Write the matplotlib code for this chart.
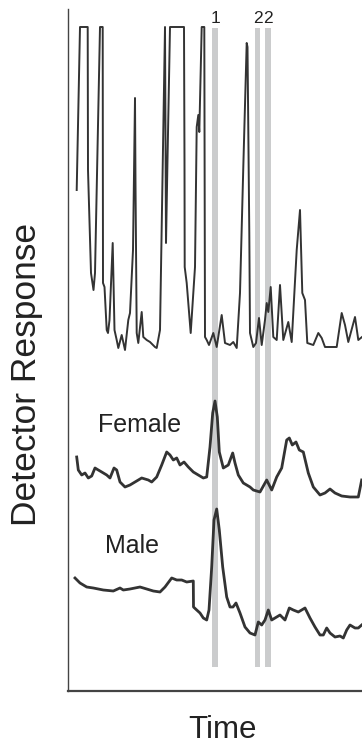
import matplotlib
matplotlib.use("Agg")
import matplotlib.pyplot as plt

plt.rcParams['font.family'] = ['Liberation Sans', 'DejaVu Sans']

# Top trace (reference chromatogram)
top_time = [8.7, 12, 19.7, 20, 23, 25.5, 27, 32, 34.7, 35, 36.5, 38.7, 40, 41.5, 44.7, 46.5,
            48.7, 50.3, 53.7, 57, 60.3, 62, 65, 67, 67.5, 68.7, 70.3, 73.7, 75.3, 78.7, 82, 87,
            88.7, 92, 97, 98, 99.5, 102, 116, 116.5, 116.7, 118.7, 122.7, 127, 128.7, 130.3, 131.3,
            133.7, 136.3, 137, 138.7, 141, 145.3, 148.7, 153.7, 157, 162, 165.3, 168.7, 172,
            175.3, 178.7, 179.5, 181.3, 182, 185.3, 188, 191, 193.7, 197, 198.7, 200.3, 202.7,
            205.3, 208.7, 212, 215.3, 220.3, 223.7, 228.7, 232, 234.3, 237, 239.3, 245.3, 250.3,
            253.7, 257, 268.7, 273.7, 277, 280.3, 287, 290.3, 294]
top_resp = [510, 673, 673, 530, 427, 410, 427, 673, 673, 417, 413, 370, 367, 380, 457, 370,
            360, 352, 365, 350, 380, 387, 450, 602, 517, 367, 357, 388, 363, 360, 358, 353,
            352, 370, 673, 457, 540, 673, 673, 537, 433, 417, 367, 433, 573, 585, 568,
            673, 673, 363, 360, 355, 367, 353, 385, 357, 355, 358, 352, 407,
            533, 657, 653, 467, 367, 353, 357, 382, 355, 380, 397, 388, 413,
            363, 360, 415, 360, 378, 358, 450, 490, 407, 400, 357, 355, 367,
            362, 353, 353, 387, 375, 358, 383, 360, 363]

# Female trace
female_time = [8.7, 10.3, 13.7, 17, 20.3, 23.7, 27, 30.3, 33.7, 38.7, 42, 46, 48.7, 52, 57, 62,
               67, 73.7, 80.3, 83.7, 88.7, 93.7, 98.7, 102, 105.3, 108.7, 112, 116, 120.3, 125.3,
               130.3, 135.3, 138.7, 142, 144.7, 147, 149.3, 151.3, 155.3, 160.3, 164.7, 167,
               170.3, 175.3, 182, 185.3, 192, 198.7, 203.7, 208.7, 213.7, 218.7, 221.3, 224.3,
               228, 231.3, 235.3, 240.3, 245.3, 252, 257, 262, 267, 273.7, 282, 290.3, 293.7]
female_resp = [243, 230, 225, 227, 222, 224, 232, 230, 228, 225, 222, 232, 230, 218, 213, 215,
               218, 222, 220, 218, 223, 235, 248, 245, 240, 242, 235, 238, 233, 228,
               225, 222, 223, 253, 287, 299, 283, 248, 232, 235, 247, 237,
               225, 217, 213, 210, 208, 220, 210, 223, 232, 260, 262, 255,
               258, 250, 248, 227, 213, 205, 207, 211, 207, 204, 203, 203, 220]

# Male trace
male_time = [7, 12, 18.7, 25.3, 35.3, 45.3, 52, 55.3, 62, 72, 78.7, 85.3, 92, 97, 103.7, 108.7,
             113.7, 118.7, 125.3, 125.5, 128.7, 132, 135.3, 138.7, 141, 143.7, 146, 148.7, 151.3,
             154.7, 158.7, 162, 165, 168, 172, 177, 182, 187, 190.3, 193.7, 197, 200.3, 203.7,
             207, 212, 217, 221.3, 225.3, 230.3, 237, 242, 247, 252, 255.3, 258.7, 262, 267,
             272, 275.3, 278.7, 282, 287, 290.3, 293.7]
male_resp = [122, 117, 113, 112, 110, 109, 112, 110, 111, 113, 111, 109, 108, 113, 122, 120,
             120, 118, 119, 93, 90, 87, 82, 80, 90, 133, 180, 191, 170,
             133, 103, 93, 93, 97, 87, 73, 67, 65, 78, 75, 80, 90, 80,
             82, 85, 80, 92, 90, 88, 92, 82, 73, 65, 65, 72, 67, 63,
             64, 62, 70, 75, 72, 72, 75]

# Highlighted compounds
band_time = [147, 189.5, 199.8]
band_labels = ["1", "2", "2"]
band_low, band_high = 33, 672

fig = plt.figure(figsize=(3.62, 7.46), dpi=100)
ax = fig.add_axes([68 / 362, 1 - 690.7 / 746, 294 / 362, 681.7 / 746])

for t, lab in zip(band_time, band_labels):
    ax.bar(t, band_high - band_low, bottom=band_low, width=5.5, color='#cbcccd',
           linewidth=0, zorder=1)
    ax.text(t, 677, lab, ha='center', va='baseline', fontsize=12.5, color='#222222')

line_color = '#333333'
ax.plot(top_time, top_resp, color=line_color, lw=1.4, zorder=3, solid_joinstyle='round')
ax.plot(female_time, female_resp, color=line_color, lw=2.0, zorder=3, solid_joinstyle='round')
ax.plot(male_time, male_resp, color=line_color, lw=2.0, zorder=3, solid_joinstyle='round')

ax.text(30, 268, "Female", ha='left', va='baseline', fontsize=18, color='#222222')
ax.text(37, 147, "Male", ha='left', va='baseline', fontsize=18, color='#222222')

ax.set_xlim(0, 294)
ax.set_ylim(9.3, 691)
ax.set_xticks([])
ax.set_yticks([])
for s in ['top', 'right']:
    ax.spines[s].set_visible(False)
ax.spines['left'].set_color('#444444')
ax.spines['left'].set_linewidth(1.0)
ax.spines['bottom'].set_color('#444444')
ax.spines['bottom'].set_linewidth(1.6)

fig.text(27 / 362, 1 - 374 / 746, "Detector Response", rotation=90, ha='center',
         va='center', fontsize=25.5, color='#222222')
fig.text(222.5 / 362, 8 / 746, "Time", ha='center', va='baseline', fontsize=22.5,
         color='#222222')

fig.savefig("out.png", dpi=100)
